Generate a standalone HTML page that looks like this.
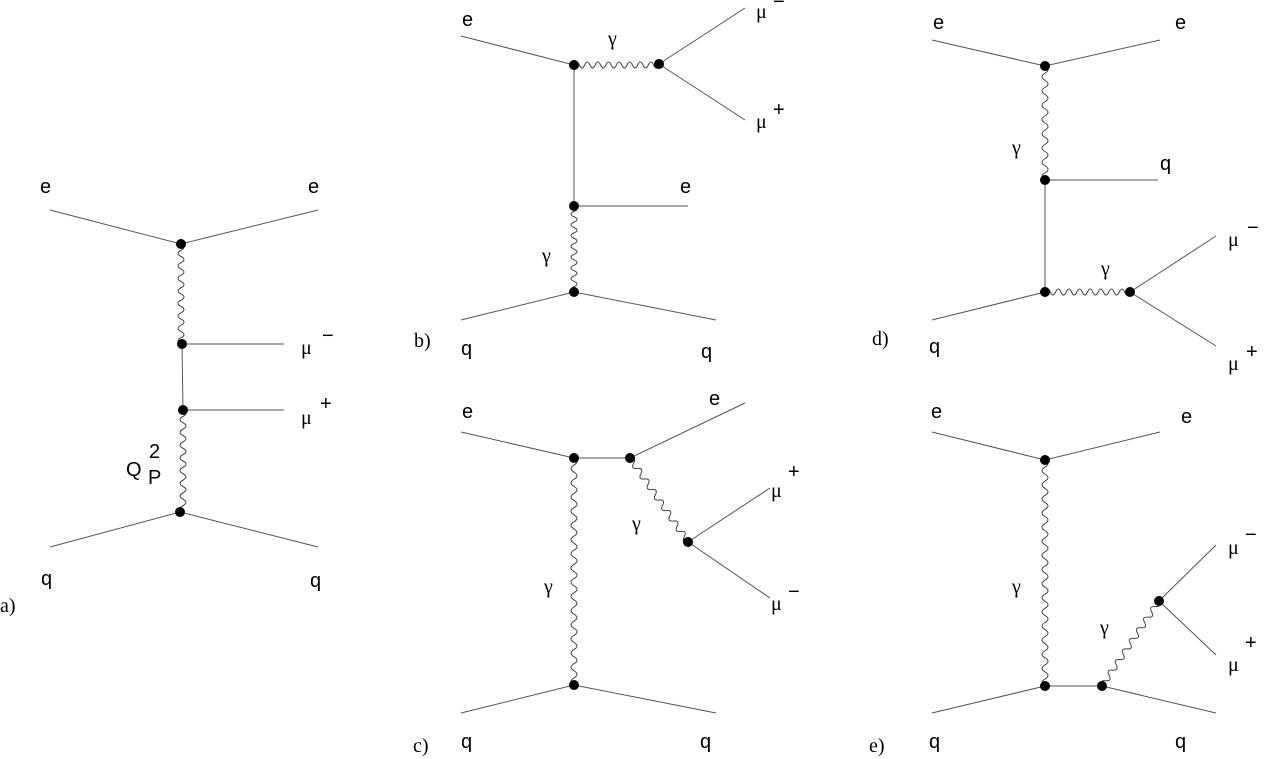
<!DOCTYPE html>
<html><head><meta charset="utf-8"><style>
body{margin:0;background:#fff}
svg{display:block}
text{font-family:"Liberation Sans",sans-serif;font-size:20px;fill:#000}
.s{font-family:"Liberation Serif",serif}
.l{stroke:#555;stroke-width:1;fill:none}
.w{stroke:#444;stroke-width:1;fill:none;vector-effect:non-scaling-stroke}
</style></head><body>
<svg width="1276" height="759" viewBox="0 0 1276 759" xmlns="http://www.w3.org/2000/svg">
<defs>
<path id="w" class="w" d="M0 0 q3.75 -6 7.5 0 t7.5 0 t7.5 0 t7.5 0 t7.5 0 t7.5 0 t7.5 0 t7.5 0 t7.5 0 t7.5 0 t7.5 0 t7.5 0 t7.5 0 t7.5 0 t7.5 0 t7.5 0"/>
<path id="w2" class="w" d="M0 0 q3.75 -6 7.5 0 t7.5 0 t7.5 0 t7.5 0 t7.5 0 t7.5 0 t7.5 0 t7.5 0 t7.5 0 t7.5 0 t7.5 0 t7.5 0 t7.5 0 t7.5 0 t7.5 0 t7.5 0 t7.5 0 t7.5 0 t7.5 0 t7.5 0 t7.5 0 t7.5 0 t7.5 0 t7.5 0 t7.5 0 t7.5 0 t7.5 0 t7.5 0 t7.5 0 t7.5 0 t7.5 0 t7.5 0"/>
</defs>
<g class="l">
<path d="M50 210 L181 244 L318 210 M50 547 L180 512 L318 547 M182 344 L284 344 M183 410 L284 410 M182 344 L183 410"/>
<path d="M461 36 L574 65 L574 206 L688 206 M659 64 L745 8 M659 64 L745 120 M461 320 L574 292 L716 320"/>
<path d="M932 40 L1045 66 L1160 40 M1045 180 L1158 180 M1045 180 L1045 292 M1130 292 L1216 236 M1130 292 L1216 346 M932 320 L1045 292"/>
<path d="M461 432 L574 458 L630 458 L745 403 M688 542 L770 488 M688 542 L770 598 M461 713 L574 685 L716 713"/>
<path d="M932 432 L1045 460 L1160 432 M1045 686 L1102 686 M1159 601 L1216 545 M1159 601 L1216 655 M932 713 L1045 686 M1102 686 L1216 713"/>
</g>
<use href="#w" transform="translate(181,244) rotate(90) scale(0.833,1)"/>
<use href="#w" transform="translate(183,410) rotate(90) scale(0.85,1)"/>
<use href="#w" transform="translate(574,65) scale(0.708,1)"/>
<use href="#w" transform="translate(574,206) rotate(90) scale(0.717,1)"/>
<use href="#w" transform="translate(1045,66) rotate(90) scale(0.95,1)"/>
<use href="#w" transform="translate(1045,292) scale(0.708,1)"/>
<use href="#w2" transform="translate(574,458) rotate(90) scale(0.946,1)"/>
<use href="#w" transform="translate(630,458) rotate(55.4) scale(0.85,1)"/>
<use href="#w2" transform="translate(1045,460) rotate(90) scale(0.942,1)"/>
<use href="#w" transform="translate(1102,686) rotate(-56.2) scale(0.85,1)"/>
<g fill="#000">
<circle cx="181" cy="244" r="5"/><circle cx="182" cy="344" r="5"/><circle cx="183" cy="410" r="5"/><circle cx="180" cy="512" r="5"/>
<circle cx="574" cy="65" r="5"/><circle cx="659" cy="64" r="5"/><circle cx="574" cy="206" r="5"/><circle cx="574" cy="292" r="5"/>
<circle cx="1045" cy="66" r="5"/><circle cx="1045" cy="180" r="5"/><circle cx="1045" cy="292" r="5"/><circle cx="1130" cy="292" r="5"/>
<circle cx="574" cy="458" r="5"/><circle cx="630" cy="458" r="5"/><circle cx="688" cy="542" r="5"/><circle cx="574" cy="685" r="5"/>
<circle cx="1045" cy="460" r="5"/><circle cx="1045" cy="686" r="5"/><circle cx="1102" cy="686" r="5"/><circle cx="1159" cy="601" r="5"/>
</g>
<text x="40" y="193">e</text><text x="308" y="193">e</text>
<text x="301" y="354" class="s">μ</text><text x="322" y="342" font-size="14">−</text>
<text x="301" y="424" class="s">μ</text><text x="320" y="410" font-size="14">+</text>
<text x="126" y="476" font-size="22">Q</text><text x="149" y="458" font-size="15">2</text><text x="148" y="484" font-size="15">P</text>
<text x="41" y="585">q</text><text x="310" y="587">q</text>
<text x="0" y="612" class="s">a)</text>
<text x="462" y="26">e</text><text x="608" y="45" class="s">γ</text>
<text x="756" y="18" class="s">μ</text><text x="773" y="8" font-size="14">−</text>
<text x="756" y="128" class="s">μ</text><text x="773" y="116" font-size="14">+</text>
<text x="680" y="193">e</text><text x="542" y="262" class="s">γ</text>
<text x="414" y="347" class="s">b)</text><text x="461" y="355">q</text><text x="701" y="358">q</text>
<text x="933" y="29">e</text><text x="1175" y="29">e</text>
<text x="1012" y="154" class="s">γ</text><text x="1160" y="170">q</text>
<text x="1101" y="275" class="s">γ</text>
<text x="1228" y="246" class="s">μ</text><text x="1247" y="234" font-size="14">−</text>
<text x="1228" y="370" class="s">μ</text><text x="1246" y="358" font-size="14">+</text>
<text x="872" y="345" class="s">d)</text><text x="929" y="353">q</text>
<text x="462" y="418">e</text><text x="709" y="405">e</text>
<text x="771" y="497" class="s">μ</text><text x="788" y="478" font-size="14">+</text>
<text x="632" y="530" class="s">γ</text>
<text x="771" y="610" class="s">μ</text><text x="788" y="598" font-size="14">−</text>
<text x="544" y="593" class="s">γ</text>
<text x="413" y="752" class="s">c)</text><text x="461" y="748">q</text><text x="700" y="748">q</text>
<text x="931" y="418">e</text><text x="1181" y="423">e</text>
<text x="1012" y="593" class="s">γ</text><text x="1100" y="634" class="s">γ</text>
<text x="1228" y="554" class="s">μ</text><text x="1245" y="541" font-size="14">−</text>
<text x="1228" y="671" class="s">μ</text><text x="1245" y="649" font-size="14">+</text>
<text x="869" y="752" class="s">e)</text><text x="929" y="748">q</text><text x="1175" y="748">q</text>
</svg>
</body></html>
